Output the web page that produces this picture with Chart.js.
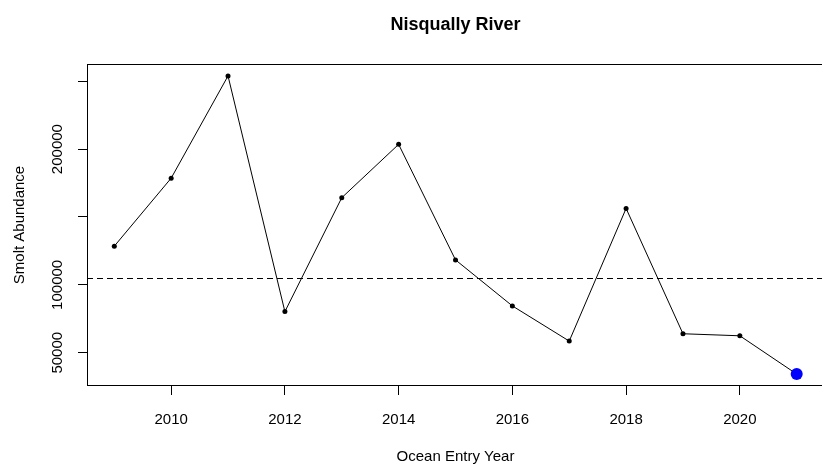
<!DOCTYPE html>
<html><head><meta charset="utf-8">
<script src="https://cdn.jsdelivr.net/npm/chart.js@4"></script>
<style>
html,body{margin:0;padding:0;overflow:hidden;background:#fff;width:822px;height:466px}
canvas{display:block}
</style>
</head><body>
<canvas id="c" width="830" height="466" style="width:830px;height:466px"></canvas>
<script>
const chartTitle = "Nisqually River";
const xAxisTitle = "Ocean Entry Year";
const yAxisTitle = "Smolt Abundance";
const years = [2009, 2010, 2011, 2012, 2013, 2014, 2015, 2016, 2017, 2018, 2019, 2020, 2021];
const smolts = [128500, 178600, 253900, 80300, 164200, 203500, 118400, 84500, 58600, 156300, 64000, 62500, 34300];
const meanAbundance = 105400;
const xTickValues = [2010, 2012, 2014, 2016, 2018, 2020];
const yTickValues = [50000, 100000, 150000, 200000, 250000];
const yTickLabels = ["50000", "100000", "", "200000", ""];

const ext = 0.04;
const xr = Math.max(...years) - Math.min(...years);
const yr = Math.max(...smolts) - Math.min(...smolts);
const xMin = Math.min(...years) - ext * xr, xMax = Math.max(...years) + ext * xr;
const yMin = Math.min(...smolts) - ext * yr, yMax = Math.max(...smolts) + ext * yr;

const points = years.map((y, i) => ({ x: y, y: smolts[i] }));
const lastIdx = points.length - 1;
const FONT = '"Liberation Sans", Arial, sans-serif';

const rBase = {
  id: 'rBase',
  beforeDatasetsDraw(chart) {
    const ctx = chart.ctx, a = chart.chartArea, ys = chart.scales.y;
    const py = Math.round(ys.getPixelForValue(meanAbundance)) + 0.5;
    ctx.save();
    ctx.strokeStyle = '#000';
    ctx.lineWidth = 1;
    ctx.setLineDash([6, 4]);
    ctx.beginPath();
    ctx.moveTo(a.left, py);
    ctx.lineTo(a.right, py);
    ctx.stroke();
    ctx.restore();
  },
  afterDraw(chart) {
    const ctx = chart.ctx, a = chart.chartArea, xs = chart.scales.x, ys = chart.scales.y;
    ctx.save();
    ctx.strokeStyle = '#000';
    ctx.lineWidth = 1;
    ctx.strokeRect(a.left + 0.5, a.top + 0.5, a.right - a.left - 1, a.bottom - a.top - 1);
    ctx.fillStyle = '#000';
    // main title
    ctx.font = 'bold 18px ' + FONT;
    ctx.textAlign = 'center';
    ctx.textBaseline = 'alphabetic';
    ctx.fillText(chartTitle, (a.left + a.right) / 2, a.top - 34);
    // x tick labels
    ctx.font = '15px ' + FONT;
    xTickValues.forEach(v => {
      ctx.fillText(String(v), xs.getPixelForValue(v), a.bottom + 38);
    });
    // x title
    ctx.fillText(xAxisTitle, (a.left + a.right) / 2, a.bottom + 75);
    // y tick labels (rotated)
    yTickValues.forEach((v, i) => {
      if (!yTickLabels[i]) return;
      ctx.save();
      ctx.translate(a.left - 25, ys.getPixelForValue(v));
      ctx.rotate(-Math.PI / 2);
      ctx.fillText(yTickLabels[i], 0, 0);
      ctx.restore();
    });
    // y title
    ctx.save();
    ctx.translate(a.left - 63, (a.top + a.bottom) / 2);
    ctx.rotate(-Math.PI / 2);
    ctx.fillText(yAxisTitle, 0, 0);
    ctx.restore();
    ctx.restore();
  }
};

new Chart(document.getElementById('c'), {
  type: 'line',
  data: {
    datasets: [{
      data: points,
      borderColor: '#000',
      borderWidth: 1,
      tension: 0,
      fill: false,
      pointRadius: c => c.dataIndex === lastIdx ? 6 : 2.5,
      pointBackgroundColor: c => c.dataIndex === lastIdx ? '#0000FF' : '#000',
      pointBorderColor: c => c.dataIndex === lastIdx ? '#0000FF' : '#000',
      pointBorderWidth: 0
    }]
  },
  options: {
    responsive: false,
    animation: false,
    devicePixelRatio: 1,
    layout: { padding: { top: 64, right: 3, left: 0, bottom: 0 } },
    plugins: { legend: { display: false }, tooltip: { enabled: false }, title: { display: false } },
    scales: {
      x: {
        type: 'linear', min: xMin, max: xMax, offset: false,
        afterBuildTicks: s => { s.ticks = xTickValues.map(v => ({ value: v })); },
        afterFit: s => { s.height = 80; },
        ticks: { display: false },
        grid: { drawOnChartArea: false, drawTicks: true, tickLength: 9, color: '#000', lineWidth: 1 },
        border: { display: false }
      },
      y: {
        type: 'linear', min: yMin, max: yMax,
        afterBuildTicks: s => { s.ticks = yTickValues.map(v => ({ value: v })); },
        afterFit: s => { s.width = 87; },
        ticks: { display: false },
        grid: { drawOnChartArea: false, drawTicks: true, tickLength: 9, color: '#000', lineWidth: 1 },
        border: { display: false }
      }
    }
  },
  plugins: [rBase]
});
</script>
</body></html>
